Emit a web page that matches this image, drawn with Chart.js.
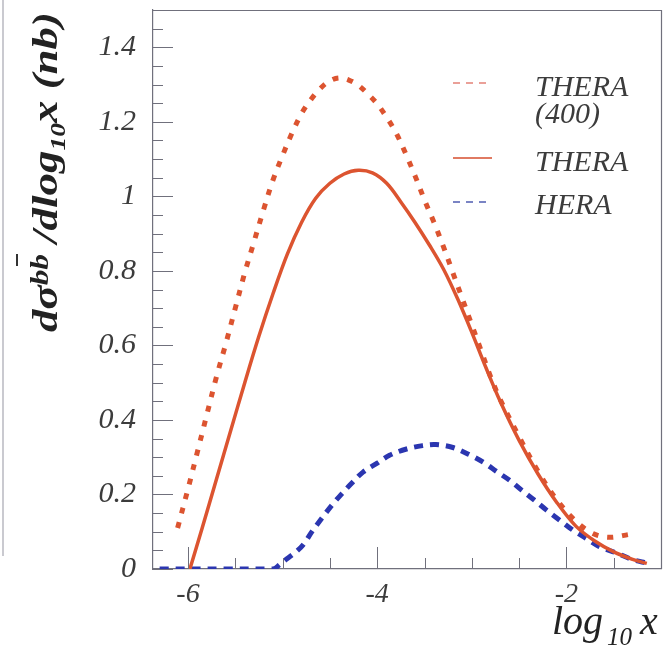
<!DOCTYPE html>
<html><head><meta charset="utf-8">
<script src="https://cdn.jsdelivr.net/npm/chart.js@4/dist/chart.umd.min.js"></script>
<style>html,body{margin:0;padding:0;background:#fff;}canvas{display:block;}</style>
</head><body>
<canvas id="c" width="664" height="660"></canvas>
<script>
// ---- data ----
const thera400X = [-6.11,-6.00,-5.90,-5.80,-5.70,-5.60,-5.50,-5.40,-5.30,-5.20,-5.10,-5.00,-4.90,-4.80,-4.70,-4.60,-4.50,-4.40,-4.30,-4.20,-4.10,-4.00,-3.90,-3.80,-3.70,-3.60,-3.50,-3.40,-3.30,-3.20,-3.10,-3.00,-2.90,-2.80,-2.70,-2.50,-2.30,-2.10,-1.90,-1.72,-1.55,-1.33];
const thera400Y = [0.11,0.215,0.315,0.415,0.515,0.605,0.70,0.795,0.88,0.965,1.045,1.11,1.17,1.222,1.26,1.29,1.31,1.318,1.312,1.298,1.275,1.248,1.212,1.17,1.115,1.055,0.99,0.93,0.865,0.795,0.725,0.655,0.585,0.515,0.455,0.355,0.262,0.185,0.128,0.095,0.085,0.093];
const theraX = [-5.98,-5.85,-5.70,-5.55,-5.40,-5.25,-5.10,-4.95,-4.80,-4.65,-4.50,-4.35,-4.20,-4.05,-3.90,-3.75,-3.60,-3.45,-3.30,-3.15,-3.00,-2.85,-2.70,-2.50,-2.30,-2.10,-1.90,-1.70,-1.50,-1.30,-1.15];
const theraY = [0.0,0.11,0.24,0.37,0.50,0.625,0.74,0.845,0.93,0.995,1.035,1.06,1.07,1.063,1.035,0.985,0.93,0.87,0.805,0.725,0.635,0.54,0.45,0.345,0.255,0.178,0.115,0.075,0.046,0.026,0.015];
const heraX = [-6.30,-5.60,-5.10,-5.03,-4.95,-4.85,-4.78,-4.68,-4.58,-4.48,-4.37,-4.27,-4.15,-4.00,-3.87,-3.69,-3.52,-3.38,-3.20,-3.02,-2.87,-2.74,-2.60,-2.47,-2.34,-2.21,-2.07,-1.93,-1.79,-1.65,-1.47,-1.30,-1.15];
const heraY = [0,0,0,0.012,0.028,0.048,0.066,0.104,0.138,0.171,0.203,0.230,0.260,0.284,0.305,0.322,0.331,0.334,0.326,0.306,0.285,0.262,0.238,0.211,0.185,0.158,0.131,0.104,0.082,0.060,0.043,0.025,0.016];
const xTickValues = [-6,-4,-2];
const xTickLabels = ['-6','-4','-2'];
const yTickValues = [0,0.2,0.4,0.6,0.8,1,1.2,1.4];
const yTickLabels = ['0','0.2','0.4','0.6','0.8','1','1.2','1.4'];
const legendLabels = [["THERA","(400)"],["THERA"],["HERA"]];

const RED = '#dc5430', BLUE = '#2b36b0', AXIS = '#70707c', TXT = '#3c3c3c';
const SERIF = '"Liberation Serif"';
const pts = (xs, ys) => xs.map((x,i)=>({x:x, y:ys[i]}));

const deco = {
  id:'deco',
  afterDraw(chart){
    const ctx = chart.ctx, ca = chart.chartArea, xs = chart.scales.x, ys = chart.scales.y;
    ctx.save();
    // neighbouring-panel edge at far left
    ctx.strokeStyle = '#b8b8c0'; ctx.lineWidth = 1.5;
    ctx.beginPath(); ctx.moveTo(3, 0); ctx.lineTo(3, 556); ctx.stroke();
    // frame top / right
    ctx.strokeStyle = AXIS; ctx.lineWidth = 1.2;
    ctx.beginPath(); ctx.moveTo(ca.left, ca.top+0.5); ctx.lineTo(ca.right+0.5, ca.top+0.5); ctx.lineTo(ca.right+0.5, ca.bottom); ctx.stroke();
    // y ticks (inside)
    ctx.lineWidth = 1;
    for (let k = 0; k <= 30; k++) {
      const v = k*0.05;
      const p = Math.round(ys.getPixelForValue(v)) + 0.5;
      const len = (k % 4 === 0) ? 20 : 10;
      ctx.beginPath(); ctx.moveTo(ca.left, p); ctx.lineTo(ca.left+len, p); ctx.stroke();
    }
    // x ticks (inside)
    for (let k = 0; k <= 10; k++) {
      const v = -6 + k*0.5;
      const p = Math.round(xs.getPixelForValue(v)) + 0.5;
      const len = (k % 4 === 0) ? 22 : 11;
      ctx.beginPath(); ctx.moveTo(p, ca.bottom); ctx.lineTo(p, ca.bottom-len); ctx.stroke();
    }
    // legend
    const lx0 = 453, lx1 = 492, tx = 535;
    ctx.lineWidth = 2;
    ctx.strokeStyle = '#eaa098'; ctx.setLineDash([7,6]);
    ctx.beginPath(); ctx.moveTo(lx0,83); ctx.lineTo(lx1,83); ctx.stroke();
    ctx.strokeStyle = '#e07a62'; ctx.setLineDash([]);
    ctx.beginPath(); ctx.moveTo(lx0,158); ctx.lineTo(lx1,158); ctx.stroke();
    ctx.strokeStyle = '#7a84c4'; ctx.setLineDash([7,6]);
    ctx.beginPath(); ctx.moveTo(lx0,202); ctx.lineTo(lx1,202); ctx.stroke();
    ctx.setLineDash([]);
    ctx.fillStyle = TXT; ctx.font = 'italic 30px ' + SERIF; ctx.textAlign = 'left'; ctx.textBaseline = 'alphabetic';
    ctx.fillText(legendLabels[0][0], tx, 96);
    ctx.fillText(legendLabels[0][1], tx, 123);
    ctx.fillText(legendLabels[1][0], tx, 171);
    ctx.fillText(legendLabels[2][0], tx, 214);
    // x title: log10x
    ctx.fillStyle = '#222';
    ctx.font = 'italic 40px ' + SERIF; ctx.fillText('log', 552, 634);
    ctx.font = 'italic 25px ' + SERIF; ctx.fillText('10', 607, 645);
    ctx.font = 'italic 40px ' + SERIF; ctx.fillText('x', 640, 634);
    // y title, rotated
    const parts = [
      {t:'d\u03C3', f:'bold italic 36px ', dy:0},
      {t:'bb', f:'bold italic 25px ', dy:-9, bar:true},
      {t:' /dlog', f:'bold italic 36px ', dy:0},
      {t:'10', f:'bold italic 22px ', dy:8},
      {t:'x (nb)', f:'bold italic 36px ', dy:0}
    ];
    let total = 0;
    parts.forEach(p => { ctx.font = p.f + SERIF; p.w = ctx.measureText(p.t).width; total += p.w; });
    const sx = 320 / total;
    ctx.translate(57, 332); ctx.rotate(-Math.PI/2); ctx.scale(sx, 1);
    let px = 0;
    parts.forEach(p => {
      ctx.font = p.f + SERIF; ctx.fillStyle = '#222';
      ctx.fillText(p.t, px, p.dy);
      if (p.bar) {
        const w1 = ctx.measureText('b').width;
        ctx.strokeStyle = '#333'; ctx.lineWidth = 2;
        ctx.beginPath(); ctx.moveTo(px + w1 + 3, -40); ctx.lineTo(px + 2*w1, -40); ctx.stroke();
      }
      px += p.w;
    });
    ctx.restore();
  }
};

const noPad = s => { s.paddingTop = 0; s.paddingBottom = 0; s.paddingLeft = 0; s.paddingRight = 0; };

new Chart(document.getElementById('c'), {
  type: 'line',
  data: {
    datasets: [
      {label:'THERA (400)', data: pts(thera400X, thera400Y), borderColor: RED, borderWidth: 5, borderDash:[6,9], pointRadius:0, tension:0.35, fill:false},
      {label:'THERA', data: pts(theraX, theraY), borderColor: RED, borderWidth: 3.5, pointRadius:0, tension:0.35, fill:false},
      {label:'HERA', data: pts(heraX, heraY), borderColor: BLUE, borderWidth: 5, borderDash:[9,7], pointRadius:0, tension:0.35, fill:false}
    ]
  },
  options: {
    responsive:false, animation:false, devicePixelRatio:1,
    layout:{padding:{top:10, right:3, left:0, bottom:0}},
    plugins:{legend:{display:false}, tooltip:{enabled:false}},
    scales:{
      x:{type:'linear', min:-6.37, max:-1.0,
        afterBuildTicks: s => { s.ticks = xTickValues.map(v => ({value:v})); },
        afterFit: s => { s.height = 91; noPad(s); },
        grid:{display:false, drawTicks:false},
        border:{display:true, color:AXIS, width:1.2},
        ticks:{font:{family:SERIF, size:28, style:'italic'}, color:TXT, padding:9, maxRotation:0,
          callback: (v, i) => xTickLabels[i]}
      },
      y:{min:0, max:1.5,
        afterBuildTicks: s => { s.ticks = yTickValues.map(v => ({value:v})); },
        afterFit: s => { s.width = 153; noPad(s); },
        grid:{display:false, drawTicks:false},
        border:{display:true, color:AXIS, width:1.2},
        ticks:{font:{family:SERIF, size:30, style:'italic'}, color:TXT, padding:17,
          callback: (v, i) => yTickLabels[i]}
      }
    }
  },
  plugins:[deco]
});
</script>
</body></html>
